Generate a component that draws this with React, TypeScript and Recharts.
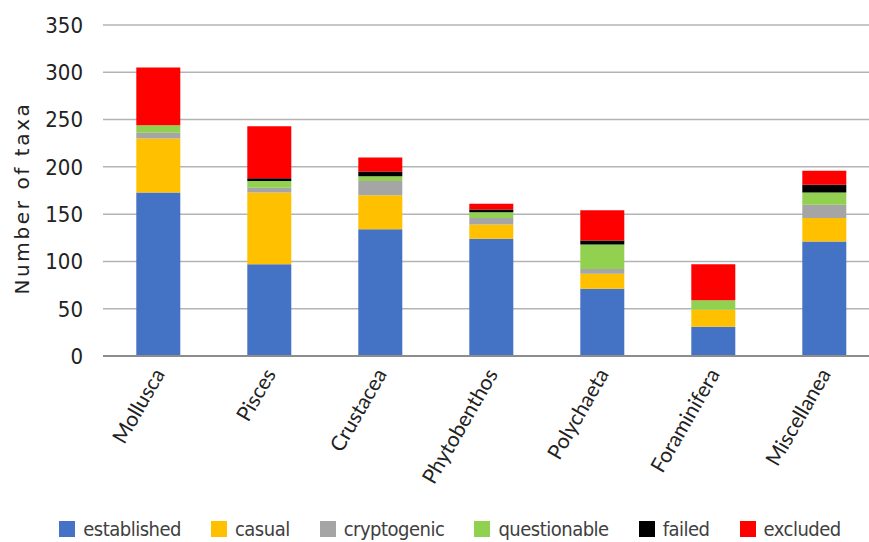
import React from "react";
import {
  BarChart,
  Bar,
  XAxis,
  YAxis,
  CartesianGrid,
  Legend,
  Label,
} from "recharts";

const categories = [
  "Mollusca",
  "Pisces",
  "Crustacea",
  "Phytobenthos",
  "Polychaeta",
  "Foraminifera",
  "Miscellanea",
];
const established = [173, 97, 134, 124, 71, 31, 121];
const casual = [57, 76, 36, 15, 16, 18, 25];
const cryptogenic = [6, 5, 15, 7, 5, 0, 14];
const questionable = [8, 7, 5, 6, 26, 10, 13];
const failed = [0, 3, 5, 3, 4, 0, 8];
const excluded = [61, 55, 15, 6, 32, 38, 15];
const yTicks = [0, 50, 100, 150, 200, 250, 300, 350];

const series = [
  { key: "established", values: established, color: "#4472C4" },
  { key: "casual", values: casual, color: "#FFC000" },
  { key: "cryptogenic", values: cryptogenic, color: "#A5A5A5" },
  { key: "questionable", values: questionable, color: "#92D050" },
  { key: "failed", values: failed, color: "#000000" },
  { key: "excluded", values: excluded, color: "#FF0000" },
];

const data = categories.map((name, i) => {
  const row: Record<string, string | number> = { name };
  series.forEach((s) => {
    row[s.key] = s.values[i];
  });
  return row;
});

const narrow = "'DejaVu Sans Condensed', sans-serif";

function CategoryTick(props: any) {
  const { x, y, payload } = props;
  return (
    <text
      transform={`translate(${x + 7},${y + 16}) rotate(-60)`}
      textAnchor="end"
      fontFamily="Lato, 'Open Sans', sans-serif"
      fontSize={21}
      fill="#222"
    >
      {payload.value}
    </text>
  );
}

function LegendContent() {
  return (
    <div
      style={{
        display: "flex",
        justifyContent: "center",
        alignItems: "center",
        height: 26,
        gap: 30,
        fontFamily: narrow,
        fontSize: 20,
        letterSpacing: -0.5,
        color: "#404040",
        paddingLeft: 20,
        paddingRight: 0,
      }}
    >
      {series.map((s) => (
        <div key={s.key} style={{ display: "flex", alignItems: "center" }}>
          <span
            style={{
              width: 16,
              height: 16,
              background: s.color,
              marginRight: 8,
              display: "inline-block",
            }}
          />
          <span>{s.key}</span>
        </div>
      ))}
    </div>
  );
}

export default function App() {
  return (
    <div
      style={{
        position: "absolute",
        left: 0,
        top: 0,
        width: 869,
        height: 542,
        overflow: "hidden",
        background: "#fff",
      }}
    >
      <BarChart
        width={890}
        height={542}
        data={data}
        margin={{ top: 25, right: 10, bottom: 0, left: 0 }}
        barCategoryGap="30%"
      >
        <CartesianGrid vertical={false} stroke="#B4B4B4" strokeWidth={1.5} />
        <XAxis
          dataKey="name"
          height={160}
          tickLine={false}
          tickSize={0}
          axisLine={{ stroke: "#8C8C8C", strokeWidth: 2 }}
          tick={<CategoryTick />}
          interval={0}
        />
        <YAxis
          width={103}
          domain={[0, 350]}
          ticks={yTicks}
          axisLine={false}
          tickLine={false}
          tickMargin={14}
          tick={{ fontFamily: narrow, fontSize: 22, fill: "#222" }}
        >
          <Label
            content={() => (
              <text
                transform="translate(29,198) rotate(-90)"
                textAnchor="middle"
                fontFamily="'DejaVu Sans', sans-serif"
                fontSize={20}
                letterSpacing={2.6}
                fill="#222"
              >
                Number of taxa
              </text>
            )}
          />
        </YAxis>
        <Legend verticalAlign="bottom" content={<LegendContent />} />
        {series.map((s) => (
          <Bar
            key={s.key}
            dataKey={s.key}
            stackId="a"
            fill={s.color}
            isAnimationActive={false}
          />
        ))}
      </BarChart>
    </div>
  );
}
